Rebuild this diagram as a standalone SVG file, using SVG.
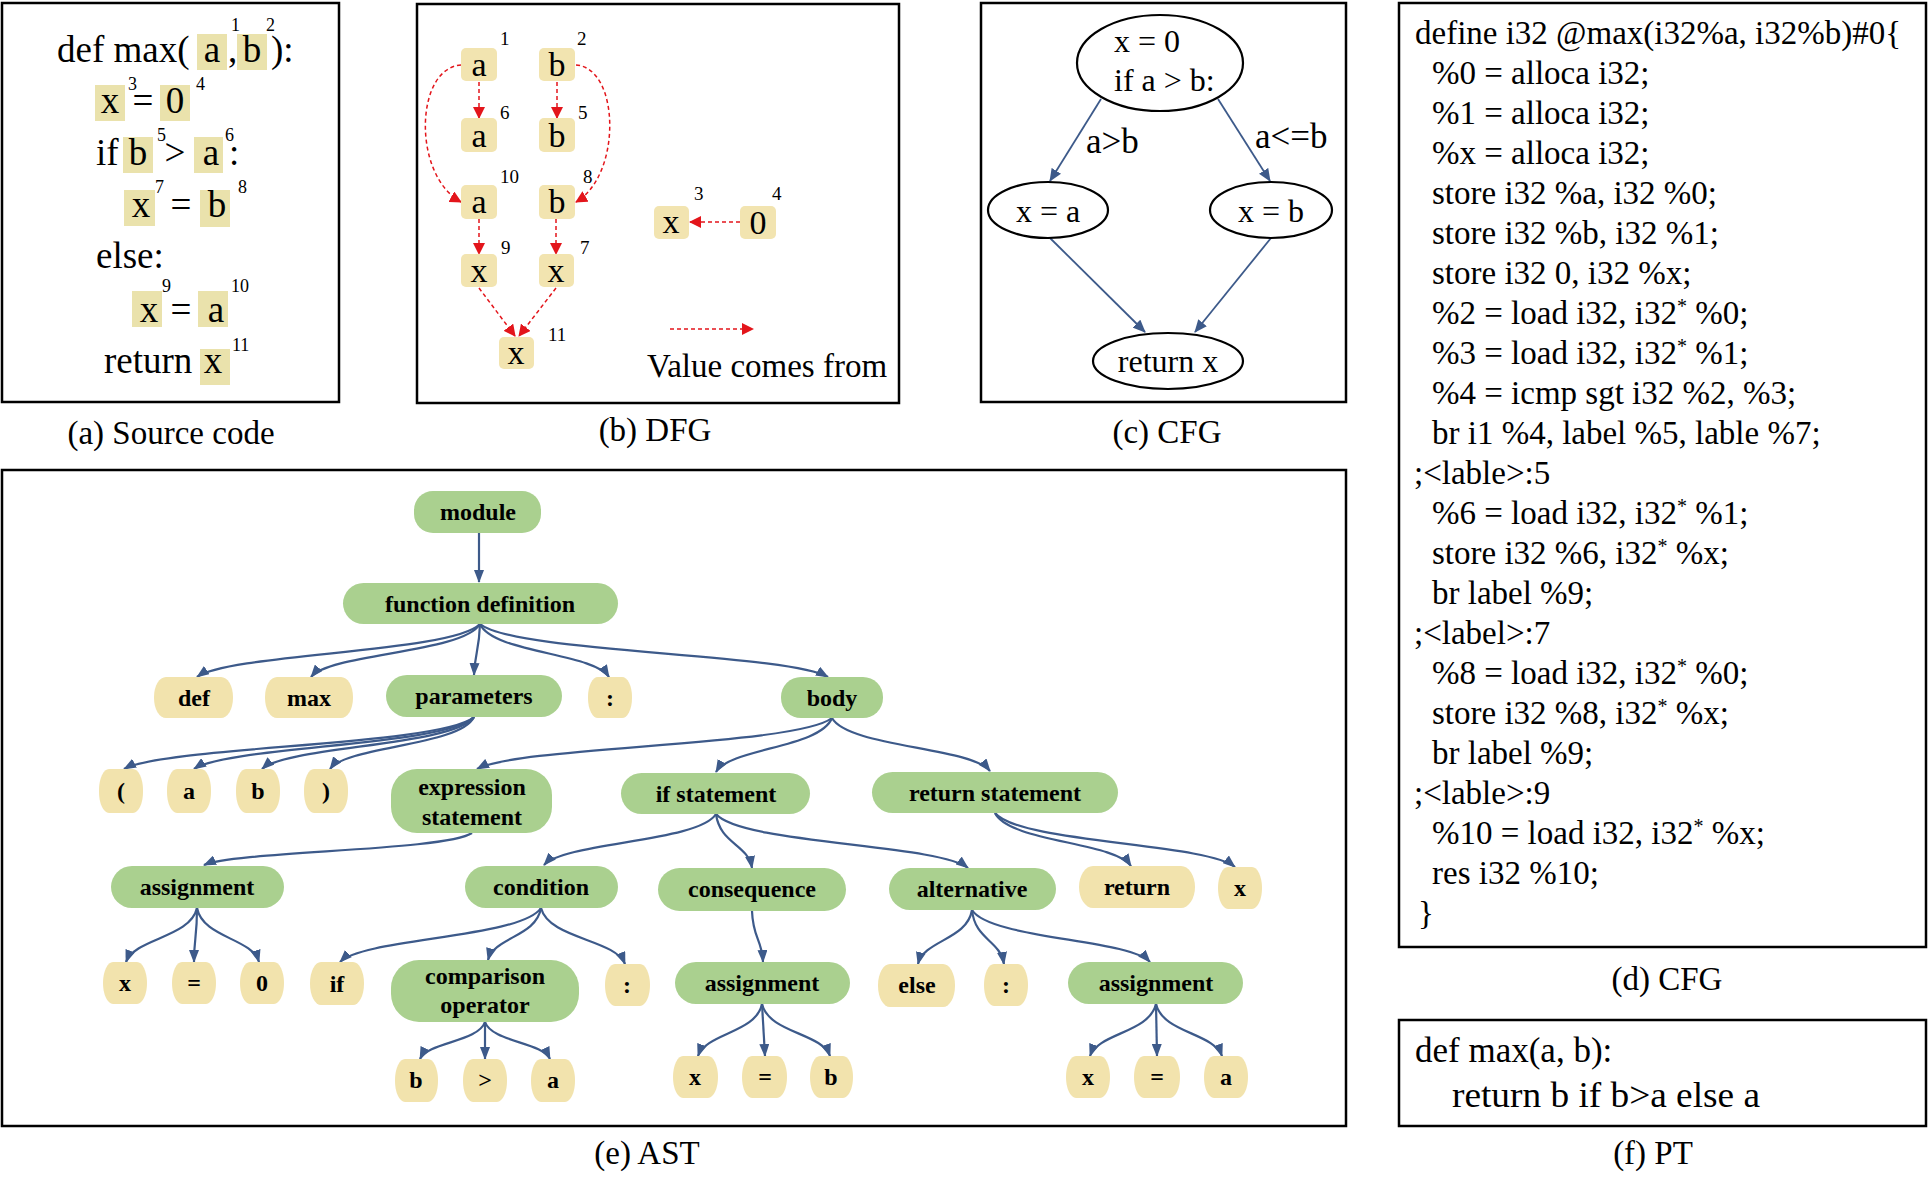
<svg xmlns="http://www.w3.org/2000/svg" width="1928" height="1193" viewBox="0 0 1928 1193">
<defs>
<style>
text{font-family:"Liberation Serif","Times New Roman",serif;fill:#000}
.frame{fill:none;stroke:#000;stroke-width:2.5}
.cap{font-size:33px;text-anchor:middle}
.src{font-size:37px}
.srcm{font-size:37px;text-anchor:middle}
.sup{font-size:18px}
.hl{fill:#EAE2AC}
.dn{fill:#F2E4B0}
.dl{font-size:34px;text-anchor:middle}
.num{font-size:19px}
.red{fill:none;stroke:#E3151B;stroke-width:1.5;stroke-dasharray:4 3;marker-end:url(#ar)}
.cfe{fill:none;stroke:#000;stroke-width:2.2}
.cft{font-size:32px}
.cftm{font-size:32px;text-anchor:middle}
.cfl{font-size:35px}
.blue{fill:none;stroke:#3D5A8A;stroke-width:1.8;marker-end:url(#ab)}
.ir{font-size:33px}
.pt{font-size:35px}
.gn{fill:#AAD08F}
.lf{fill:#F2E3AD}
.at{font-weight:bold;font-size:24px;text-anchor:middle}
.ae{fill:none;stroke:#3D5A8A;stroke-width:2.2;marker-end:url(#aa)}
</style>
<marker id="ar" markerUnits="userSpaceOnUse" markerWidth="12" markerHeight="12" refX="11" refY="6" orient="auto"><path d="M0,0 L12,6 L0,12 z" fill="#E3151B"/></marker>
<marker id="ab" markerUnits="userSpaceOnUse" markerWidth="13" markerHeight="11" refX="12" refY="5.5" orient="auto"><path d="M0,0 L13,5.5 L0,11 z" fill="#3D5A8A"/></marker>
<marker id="aa" markerUnits="userSpaceOnUse" markerWidth="13" markerHeight="10" refX="12" refY="5" orient="auto"><path d="M0,0 L13,5 L0,10 z" fill="#3D5A8A"/></marker>
</defs>
<rect width="1928" height="1193" fill="#fff"/>

<!-- (a) Source code -->
<g id="source-code">
<rect class="frame" x="2" y="3" width="337" height="399"/>
<rect class="hl" x="197" y="34" width="30" height="36"/>
<rect class="hl" x="237" y="34" width="30" height="36"/>
<rect class="hl" x="95" y="85" width="30" height="36"/>
<rect class="hl" x="160" y="85" width="30" height="36"/>
<rect class="hl" x="123" y="137" width="30" height="36"/>
<rect class="hl" x="194" y="137" width="29" height="36"/>
<rect class="hl" x="124" y="190" width="31" height="36"/>
<rect class="hl" x="200" y="190" width="30" height="37"/>
<rect class="hl" x="132" y="291" width="30" height="36"/>
<rect class="hl" x="198" y="291" width="30" height="36"/>
<rect class="hl" x="200" y="349" width="30" height="36"/>
<text class="src" x="57" y="62">def max(</text>
<text class="srcm" x="212" y="62">a</text>
<text class="src" x="228" y="62">,</text>
<text class="srcm" x="252" y="62">b</text>
<text class="src" x="271" y="62">):</text>
<text class="sup" x="231" y="31">1</text>
<text class="sup" x="266" y="31">2</text>
<text class="srcm" x="110" y="113">x</text>
<text class="srcm" x="143" y="113">=</text>
<text class="srcm" x="175" y="113">0</text>
<text class="sup" x="128" y="90">3</text>
<text class="sup" x="196" y="90">4</text>
<text class="src" x="96" y="165">if</text>
<text class="srcm" x="138" y="165">b</text>
<text class="srcm" x="175" y="165">&gt;</text>
<text class="srcm" x="211" y="165">a</text>
<text class="src" x="229" y="165">:</text>
<text class="sup" x="157" y="141">5</text>
<text class="sup" x="225" y="141">6</text>
<text class="srcm" x="141" y="217">x</text>
<text class="srcm" x="181" y="217">=</text>
<text class="srcm" x="217" y="217">b</text>
<text class="sup" x="155" y="193">7</text>
<text class="sup" x="238" y="193">8</text>
<text class="src" x="96" y="268">else:</text>
<text class="srcm" x="149" y="322">x</text>
<text class="srcm" x="181" y="322">=</text>
<text class="srcm" x="216" y="322">a</text>
<text class="sup" x="162" y="292">9</text>
<text class="sup" x="231" y="292">10</text>
<text class="src" x="104" y="373">return</text>
<text class="srcm" x="213" y="373">x</text>
<text class="sup" x="232" y="351">11</text>
<text class="cap" x="171" y="444">(a) Source code</text>
</g>

<!-- (b) DFG -->
<g id="dfg">
<rect class="frame" x="417" y="4" width="482" height="399" stroke-width="2.2"/>
<g id="dfg-connectors">
<line class="red" x1="479" y1="82" x2="479" y2="118"/>
<line class="red" x1="557" y1="82" x2="557" y2="118"/>
<path class="red" d="M461,65 C415,68 412,175 461,202"/>
<path class="red" d="M576,65 C620,68 622,175 576,202"/>
<line class="red" x1="479" y1="219" x2="479" y2="254"/>
<line class="red" x1="556" y1="219" x2="556" y2="254"/>
<line class="red" x1="479" y1="288" x2="515" y2="336"/>
<line class="red" x1="556" y1="288" x2="519" y2="336"/>
<line class="red" x1="740" y1="222" x2="690" y2="222"/>
<line class="red" x1="670" y1="329" x2="753" y2="329"/>
</g>
<g id="dfg-a1"><rect class="dn" x="461" y="48" width="36" height="33" rx="5"/><text class="dl" x="479" y="76">a</text><text class="num" x="500" y="45">1</text></g>
<g id="dfg-b2"><rect class="dn" x="539" y="48" width="36" height="33" rx="5"/><text class="dl" x="557" y="76">b</text><text class="num" x="577" y="45">2</text></g>
<g id="dfg-a6"><rect class="dn" x="461" y="118" width="36" height="34" rx="5"/><text class="dl" x="479" y="147">a</text><text class="num" x="500" y="119">6</text></g>
<g id="dfg-b5"><rect class="dn" x="539" y="118" width="36" height="34" rx="5"/><text class="dl" x="557" y="147">b</text><text class="num" x="578" y="119">5</text></g>
<g id="dfg-a10"><rect class="dn" x="461" y="185" width="36" height="34" rx="5"/><text class="dl" x="479" y="213">a</text><text class="num" x="500" y="183">10</text></g>
<g id="dfg-b8"><rect class="dn" x="539" y="185" width="36" height="34" rx="5"/><text class="dl" x="557" y="213">b</text><text class="num" x="583" y="183">8</text></g>
<g id="dfg-x9"><rect class="dn" x="461" y="254" width="36" height="33" rx="5"/><text class="dl" x="479" y="282">x</text><text class="num" x="501" y="254">9</text></g>
<g id="dfg-x7"><rect class="dn" x="539" y="254" width="35" height="33" rx="5"/><text class="dl" x="556" y="282">x</text><text class="num" x="580" y="254">7</text></g>
<g id="dfg-x11"><rect class="dn" x="499" y="337" width="35" height="32" rx="5"/><text class="dl" x="516" y="364">x</text><text class="num" x="548" y="341">11</text></g>
<g id="dfg-x3"><rect class="dn" x="654" y="206" width="35" height="33" rx="5"/><text class="dl" x="671" y="233">x</text><text class="num" x="694" y="200">3</text></g>
<g id="dfg-04"><rect class="dn" x="740" y="206" width="36" height="33" rx="5"/><text class="dl" x="758" y="234">0</text><text class="num" x="772" y="200">4</text></g>
<text x="647" y="377" font-size="33">Value comes from</text>
<text class="cap" x="655" y="441">(b) DFG</text>
</g>

<!-- (c) CFG -->
<g id="cfg">
<rect class="frame" x="981" y="3" width="365" height="399" stroke-width="2.2"/>
<g id="cfg-connectors">
<line class="blue" x1="1101" y1="99" x2="1050" y2="181"/>
<line class="blue" x1="1218" y1="99" x2="1270" y2="181"/>
<line class="blue" x1="1050" y1="238" x2="1145" y2="332"/>
<line class="blue" x1="1271" y1="238" x2="1195" y2="332"/>
<text class="cfl" x="1086" y="153">a&gt;b</text>
<text class="cfl" x="1255" y="148">a&lt;=b</text>
</g>
<g id="cfg-entry"><ellipse class="cfe" cx="1160" cy="63" rx="83" ry="48" fill="#fff"/><text class="cft" x="1114" y="52">x = 0</text><text class="cft" x="1114" y="91">if a &gt; b:</text></g>
<g id="cfg-xa"><ellipse class="cfe" cx="1048" cy="210" rx="60" ry="28" fill="#fff"/><text class="cftm" x="1048" y="222">x = a</text></g>
<g id="cfg-xb"><ellipse class="cfe" cx="1271" cy="210" rx="61" ry="28" fill="#fff"/><text class="cftm" x="1271" y="222">x = b</text></g>
<g id="cfg-ret"><ellipse class="cfe" cx="1168" cy="361" rx="75" ry="28" fill="#fff"/><text class="cftm" x="1168" y="372">return x</text></g>
<text class="cap" x="1167" y="443">(c) CFG</text>
</g>

<!-- (d) IR -->
<g id="ir">
<rect class="frame" x="1399" y="3" width="527" height="944" stroke-width="2.2"/>
<text class="ir" x="1415" y="44">define i32 @max(i32%a, i32%b)#0{</text>
<text class="ir" x="1432" y="84">%0 = alloca i32;</text>
<text class="ir" x="1432" y="124">%1 = alloca i32;</text>
<text class="ir" x="1432" y="164">%x = alloca i32;</text>
<text class="ir" x="1432" y="204">store i32 %a, i32 %0;</text>
<text class="ir" x="1432" y="244">store i32 %b, i32 %1;</text>
<text class="ir" x="1432" y="284">store i32 0, i32 %x;</text>
<text class="ir" x="1432" y="324">%2 = load i32, i32<tspan dy="-11" font-size="20">*</tspan><tspan dy="11"> %0;</tspan></text>
<text class="ir" x="1432" y="364">%3 = load i32, i32<tspan dy="-11" font-size="20">*</tspan><tspan dy="11"> %1;</tspan></text>
<text class="ir" x="1432" y="404">%4 = icmp sgt i32 %2, %3;</text>
<text class="ir" x="1432" y="444">br i1 %4, label %5, lable %7;</text>
<text class="ir" x="1414" y="484">;&lt;lable&gt;:5</text>
<text class="ir" x="1432" y="524">%6 = load i32, i32<tspan dy="-11" font-size="20">*</tspan><tspan dy="11"> %1;</tspan></text>
<text class="ir" x="1432" y="564">store i32 %6, i32<tspan dy="-11" font-size="20">*</tspan><tspan dy="11"> %x;</tspan></text>
<text class="ir" x="1432" y="604">br label %9;</text>
<text class="ir" x="1414" y="644">;&lt;label&gt;:7</text>
<text class="ir" x="1432" y="684">%8 = load i32, i32<tspan dy="-11" font-size="20">*</tspan><tspan dy="11"> %0;</tspan></text>
<text class="ir" x="1432" y="724">store i32 %8, i32<tspan dy="-11" font-size="20">*</tspan><tspan dy="11"> %x;</tspan></text>
<text class="ir" x="1432" y="764">br label %9;</text>
<text class="ir" x="1414" y="804">;&lt;lable&gt;:9</text>
<text class="ir" x="1432" y="844">%10 = load i32, i32<tspan dy="-11" font-size="20">*</tspan><tspan dy="11"> %x;</tspan></text>
<text class="ir" x="1432" y="884">res i32 %10;</text>
<text class="ir" x="1418" y="924">}</text>
<text class="cap" x="1667" y="990">(d) CFG</text>
</g>

<!-- (f) PT -->
<g id="pt">
<rect class="frame" x="1399" y="1020" width="527" height="106" stroke-width="2.2"/>
<text class="pt" x="1415" y="1062">def max(a, b):</text>
<text class="pt" x="1452" y="1107" textLength="308" lengthAdjust="spacingAndGlyphs">return b if b&gt;a else a</text>
<text class="cap" x="1653" y="1164">(f) PT</text>
</g>

<!-- (e) AST -->
<g id="ast">
<rect class="frame" x="2" y="470" width="1344" height="656"/>
<g id="ast-connectors">
<path class="ae" d="M479,533 L479,582"/>
<path class="ae" d="M480,624 C452,653 231,653 197,677"/>
<path class="ae" d="M480,624 C463,653 331,653 311,677"/>
<path class="ae" d="M480,624 C479,652 475,652 474,675"/>
<path class="ae" d="M480,624 C493,653 594,653 609,677"/>
<path class="ae" d="M480,624 C515,653 786,653 828,677"/>
<path class="ae" d="M474,717 C439,746 166,746 124,769"/>
<path class="ae" d="M474,717 C446,746 228,746 194,769"/>
<path class="ae" d="M474,717 C453,746 287,746 262,769"/>
<path class="ae" d="M474,717 C460,746 347,746 330,769"/>
<path class="ae" d="M832,718 C796,746 520,746 477,769"/>
<path class="ae" d="M832,718 C820,748 730,748 716,772"/>
<path class="ae" d="M832,718 C848,747 971,747 990,771"/>
<path class="ae" d="M472,833 C445,851 236,851 204,865"/>
<path class="ae" d="M197,908 C190,938 135,938 126,962"/>
<path class="ae" d="M197,908 C197,938 194,938 194,962"/>
<path class="ae" d="M197,908 C203,938 252,938 259,962"/>
<path class="ae" d="M716,814 C699,842 565,842 544,865"/>
<path class="ae" d="M716,814 C720,844 748,844 752,868"/>
<path class="ae" d="M716,814 C741,844 938,844 968,868"/>
<path class="ae" d="M541,908 C521,938 364,938 340,962"/>
<path class="ae" d="M541,908 C536,937 494,937 488,960"/>
<path class="ae" d="M541,908 C549,939 615,939 625,964"/>
<path class="ae" d="M485,1022 C478,1042 428,1042 420,1059"/>
<path class="ae" d="M485,1022 L485,1059"/>
<path class="ae" d="M485,1022 C492,1042 542,1042 550,1059"/>
<path class="ae" d="M752,911 C753,939 762,939 763,962"/>
<path class="ae" d="M762,1004 C756,1033 706,1033 698,1056"/>
<path class="ae" d="M762,1004 L765,1056"/>
<path class="ae" d="M762,1004 C769,1033 822,1033 830,1056"/>
<path class="ae" d="M972,910 C967,940 924,940 918,964"/>
<path class="ae" d="M972,910 C975,940 1000,940 1004,964"/>
<path class="ae" d="M972,910 C990,939 1129,939 1150,962"/>
<path class="ae" d="M1156,1004 C1149,1033 1098,1033 1090,1056"/>
<path class="ae" d="M1156,1004 L1157,1056"/>
<path class="ae" d="M1156,1004 C1163,1033 1214,1033 1222,1056"/>
<path class="ae" d="M995,813 C1009,842 1115,842 1131,866"/>
<path class="ae" d="M995,813 C1019,843 1206,843 1235,867"/>
</g>
<g id="n-module"><rect class="gn" x="414" y="491" width="127" height="42" rx="19"/><text class="at" x="478" y="520">module</text></g>
<g id="n-funcdef"><rect class="gn" x="343" y="583" width="275" height="41" rx="20.5"/><text class="at" x="480" y="612">function definition</text></g>
<g id="n-def"><rect class="lf" x="154" y="677" width="79" height="41" rx="12" ry="20"/><text class="at" x="194" y="706">def</text></g>
<g id="n-max"><rect class="lf" x="265" y="677" width="88" height="41" rx="12" ry="20"/><text class="at" x="309" y="706">max</text></g>
<g id="n-parameters"><rect class="gn" x="386" y="675" width="176" height="42" rx="21"/><text class="at" x="474" y="704">parameters</text></g>
<g id="n-colon1"><rect class="lf" x="588" y="677" width="44" height="41" rx="10" ry="20"/><text class="at" x="610" y="706">:</text></g>
<g id="n-body"><rect class="gn" x="781" y="677" width="102" height="41" rx="20"/><text class="at" x="832" y="706">body</text></g>
<g id="n-lparen"><rect class="lf" x="99" y="769" width="44" height="44" rx="10" ry="21"/><text class="at" x="121" y="799">(</text></g>
<g id="n-pa"><rect class="lf" x="167" y="769" width="44" height="44" rx="10" ry="21"/><text class="at" x="189" y="799">a</text></g>
<g id="n-pb"><rect class="lf" x="236" y="769" width="44" height="44" rx="10" ry="21"/><text class="at" x="258" y="799">b</text></g>
<g id="n-rparen"><rect class="lf" x="304" y="769" width="44" height="44" rx="10" ry="21"/><text class="at" x="326" y="799">)</text></g>
<g id="n-exprstmt"><rect class="gn" x="391" y="769" width="161" height="64" rx="26"/><text class="at" x="472" y="795">expression</text><text class="at" x="472" y="825">statement</text></g>
<g id="n-ifstmt"><rect class="gn" x="621" y="773" width="189" height="41" rx="20.5"/><text class="at" x="716" y="802">if statement</text></g>
<g id="n-retstmt"><rect class="gn" x="872" y="772" width="246" height="41" rx="20.5"/><text class="at" x="995" y="801">return statement</text></g>
<g id="n-assign1"><rect class="gn" x="111" y="866" width="173" height="42" rx="21"/><text class="at" x="197" y="895">assignment</text></g>
<g id="n-condition"><rect class="gn" x="465" y="866" width="153" height="42" rx="21"/><text class="at" x="541" y="895">condition</text></g>
<g id="n-consequence"><rect class="gn" x="658" y="868" width="188" height="43" rx="21.5"/><text class="at" x="752" y="897">consequence</text></g>
<g id="n-alternative"><rect class="gn" x="889" y="868" width="167" height="42" rx="21"/><text class="at" x="972" y="897">alternative</text></g>
<g id="n-return"><rect class="lf" x="1079" y="866" width="116" height="42" rx="14" ry="21"/><text class="at" x="1137" y="895">return</text></g>
<g id="n-retx"><rect class="lf" x="1218" y="867" width="44" height="42" rx="10" ry="21"/><text class="at" x="1240" y="896">x</text></g>
<g id="n-x1"><rect class="lf" x="103" y="962" width="44" height="42" rx="10" ry="21"/><text class="at" x="125" y="991">x</text></g>
<g id="n-eq1"><rect class="lf" x="172" y="962" width="44" height="42" rx="10" ry="21"/><text class="at" x="194" y="991">=</text></g>
<g id="n-zero"><rect class="lf" x="240" y="962" width="44" height="42" rx="10" ry="21"/><text class="at" x="262" y="991">0</text></g>
<g id="n-if"><rect class="lf" x="310" y="962" width="54" height="43" rx="11" ry="21"/><text class="at" x="337" y="992">if</text></g>
<g id="n-cmpop"><rect class="gn" x="391" y="960" width="188" height="62" rx="28"/><text class="at" x="485" y="984">comparison</text><text class="at" x="485" y="1013">operator</text></g>
<g id="n-colon2"><rect class="lf" x="605" y="964" width="45" height="42" rx="10" ry="21"/><text class="at" x="627" y="993">:</text></g>
<g id="n-assign2"><rect class="gn" x="675" y="962" width="175" height="42" rx="21"/><text class="at" x="762" y="991">assignment</text></g>
<g id="n-else"><rect class="lf" x="878" y="964" width="77" height="43" rx="12" ry="21"/><text class="at" x="917" y="993">else</text></g>
<g id="n-colon3"><rect class="lf" x="984" y="964" width="44" height="42" rx="10" ry="21"/><text class="at" x="1006" y="993">:</text></g>
<g id="n-assign3"><rect class="gn" x="1068" y="962" width="175" height="42" rx="21"/><text class="at" x="1156" y="991">assignment</text></g>
<g id="n-cb"><rect class="lf" x="395" y="1059" width="43" height="43" rx="10" ry="21"/><text class="at" x="416" y="1088">b</text></g>
<g id="n-cgt"><rect class="lf" x="463" y="1059" width="44" height="43" rx="10" ry="21"/><text class="at" x="485" y="1088">&gt;</text></g>
<g id="n-ca"><rect class="lf" x="531" y="1059" width="44" height="43" rx="10" ry="21"/><text class="at" x="553" y="1088">a</text></g>
<g id="n-x2"><rect class="lf" x="673" y="1056" width="45" height="42" rx="10" ry="21"/><text class="at" x="695" y="1085">x</text></g>
<g id="n-eq2"><rect class="lf" x="742" y="1056" width="45" height="42" rx="10" ry="21"/><text class="at" x="765" y="1085">=</text></g>
<g id="n-b2"><rect class="lf" x="810" y="1056" width="43" height="42" rx="10" ry="21"/><text class="at" x="831" y="1085">b</text></g>
<g id="n-x3"><rect class="lf" x="1066" y="1056" width="44" height="42" rx="10" ry="21"/><text class="at" x="1088" y="1085">x</text></g>
<g id="n-eq3"><rect class="lf" x="1134" y="1056" width="46" height="42" rx="10" ry="21"/><text class="at" x="1157" y="1085">=</text></g>
<g id="n-a3"><rect class="lf" x="1204" y="1056" width="44" height="42" rx="10" ry="21"/><text class="at" x="1226" y="1085">a</text></g>
<text class="cap" x="647" y="1164">(e) AST</text>
</g>
</svg>
